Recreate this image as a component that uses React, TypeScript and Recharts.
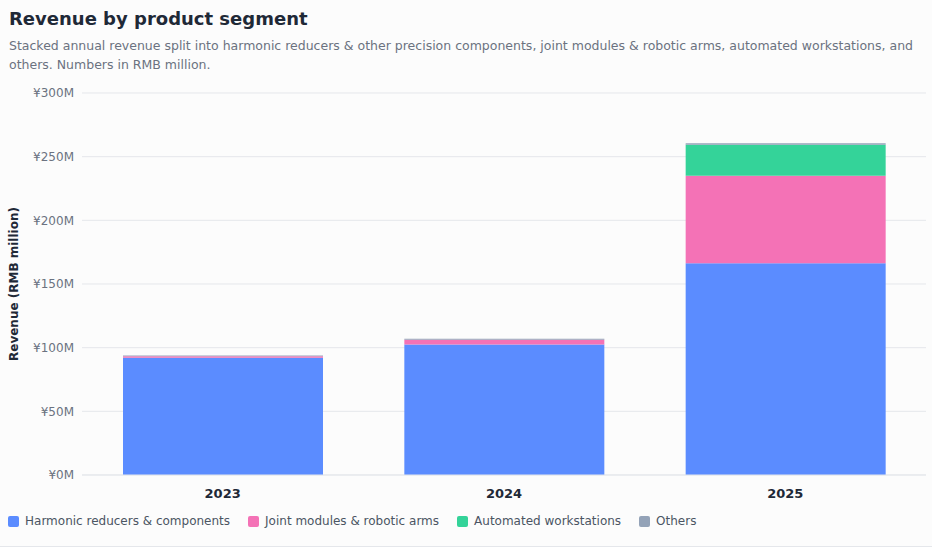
import React from "react";
import { BarChart, Bar, XAxis, YAxis, CartesianGrid } from "recharts";

const years = ["2023", "2024", "2025"];
const harmonic = [92.1, 102.4, 166.2];
const joint = [1.2, 3.8, 68.9];
const workstations = [0, 0, 24.2];
const others = [0.5, 0.8, 1.2];
const yTicks = [0, 50, 100, 150, 200, 250, 300];

const series = [
  { key: "harmonic", name: "Harmonic reducers & components", color: "#5b8cff" },
  { key: "joint", name: "Joint modules & robotic arms", color: "#f472b6" },
  { key: "workstations", name: "Automated workstations", color: "#34d399" },
  { key: "others", name: "Others", color: "#94a3b8" },
];

const data = years.map((y, i) => ({
  year: y,
  harmonic: harmonic[i],
  joint: joint[i],
  workstations: workstations[i],
  others: others[i],
}));

const font = "'DejaVu Sans', sans-serif";

export default function App() {
  return (
    <div style={{ position: "fixed", left: 0, top: 0, width: 932, height: 547, background: "#fcfcfc", fontFamily: font, borderBottom: "1px solid #e5e7eb", boxSizing: "border-box" }}>
      <div style={{ position: "absolute", left: 9, top: 8, fontSize: 18, fontWeight: 700, color: "#1f2937" }}>
        Revenue by product segment
      </div>
      <div style={{ position: "absolute", left: 9, top: 36, width: 915, fontSize: 12.5, lineHeight: "19px", color: "#6b7280" }}>
        Stacked annual revenue split into harmonic reducers &amp; other precision components, joint modules &amp; robotic arms, automated workstations, and others. Numbers in RMB million.
      </div>
      <div style={{ position: "absolute", left: 0, top: 80 }}>
        <BarChart width={932} height={425} data={data} margin={{ top: 13, right: 6, bottom: 0, left: 8 }}>
          <CartesianGrid vertical={false} stroke="#e5e7eb" />
          <XAxis dataKey="year" axisLine={{ stroke: "#e5e7eb" }} tickLine={false} tick={{ fill: "#1f2937", fontSize: 13, fontWeight: 700, fontFamily: font }} tickMargin={8} />
          <YAxis domain={[0, 300]} ticks={yTicks} tickFormatter={(v) => `¥${v}M`} axisLine={false} tickLine={false} width={74}
            tick={{ fill: "#6b7280", fontSize: 12, fontFamily: font }}
            label={{ value: "Revenue (RMB million)", angle: -90, position: "insideLeft", offset: 6, style: { textAnchor: "middle", fill: "#1f2937", fontSize: 12, fontWeight: 700, fontFamily: font } }} />
          {series.map((s) => (
            <Bar key={s.key} dataKey={s.key} name={s.name} stackId="a" fill={s.color} barSize={200} isAnimationActive={false} />
          ))}
        </BarChart>
      </div>
      <div style={{ position: "absolute", left: 8, top: 514, display: "flex", gap: 18, fontSize: 12, color: "#4b5563" }}>
        {series.map((s) => (
          <div key={s.key} style={{ display: "flex", alignItems: "center", gap: 6 }}>
            <span style={{ width: 11, height: 11, background: s.color, display: "inline-block", borderRadius: 2 }} />
            {s.name}
          </div>
        ))}
      </div>
    </div>
  );
}
